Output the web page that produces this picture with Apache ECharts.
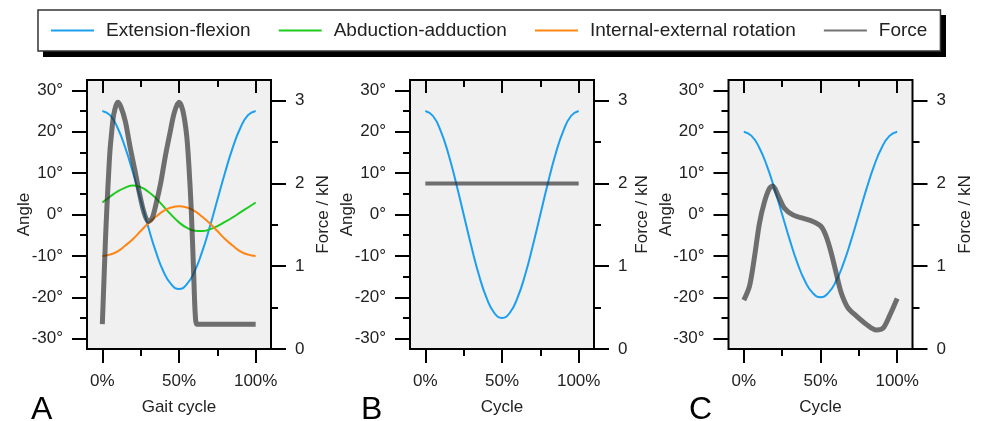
<!DOCTYPE html>
<html>
<head>
<meta charset="utf-8">
<script src="https://cdn.jsdelivr.net/npm/echarts@6/dist/echarts.min.js"></script>
<style>
html, body { margin: 0; padding: 0; background: #fff; }
#main { width: 981px; height: 421px; }
</style>
</head>
<body>
<div id="main"></div>
<script>
const seriesNames = ['Extension-flexion', 'Abduction-adduction', 'Internal-external rotation', 'Force'];
const panelLetters = ['A', 'B', 'C'];
const xNames = ['Gait cycle', 'Cycle', 'Cycle'];

// angles sampled every 5% of the cycle
const cyclePct = [0, 5, 10, 15, 20, 25, 30, 35, 40, 45, 50, 55, 60, 65, 70, 75, 80, 85, 90, 95, 100];
const flexA = [25, 24.0, 20.9, 16.1, 10.1, 3.5, -3.1, -9.1, -13.9, -16.9, -18, -16.9, -13.9, -9.1, -3.1, 3.5, 10.1, 16.1, 20.9, 24.0, 25];
const abdA = [2.9, 4.3, 5.6, 6.5, 7.0, 6.6, 5.5, 3.9, 1.9, -0.1, -1.9, -3.2, -3.9, -4.0, -3.6, -2.8, -1.8, -0.7, 0.5, 1.7, 2.9];
const rotA = [-10, -9.7, -8.9, -7.5, -5.9, -4.0, -2.1, -0.5, 0.9, 1.7, 2.0, 1.7, 0.9, -0.5, -2.1, -4.0, -5.9, -7.5, -8.9, -9.7, -10];
const flexB = [25, 23.8, 20.2, 14.7, 7.7, 0, -7.7, -14.7, -20.2, -23.8, -25, -23.8, -20.2, -14.7, -7.7, 0, 7.7, 14.7, 20.2, 23.8, 25];
const flexC = [20, 19.0, 16.2, 11.8, 6.2, 0, -6.2, -11.8, -16.2, -19.0, -20, -19.0, -16.2, -11.8, -6.2, 0, 6.2, 11.8, 16.2, 19.0, 20];

// force in kN, uneven sampling
const forceAPct = [0, 1, 2, 3, 4, 5, 6, 7, 8, 10, 12, 15, 18, 21, 24, 27, 30, 32.5, 35, 38, 41, 44, 47, 50, 52.5, 55, 56.5, 58, 59.5, 60.5, 61.5, 63, 100];
const forceA = [0.30, 0.80, 1.30, 1.72, 2.08, 2.40, 2.60, 2.78, 2.88, 2.98, 2.93, 2.75, 2.45, 2.18, 1.90, 1.66, 1.54, 1.58, 1.75, 2.00, 2.32, 2.60, 2.86, 2.98, 2.88, 2.58, 2.20, 1.68, 0.95, 0.45, 0.30, 0.30, 0.30];
const forceBPct = [0, 100];
const forceB = [2, 2];
const forceCPct = [0, 3.7, 7, 10.2, 13.5, 16.7, 18.9, 22.2, 26.5, 32, 38.5, 45, 50.4, 53.7, 57, 60.2, 63.5, 67.8, 73.3, 79.8, 86.3, 90.7, 95, 100];
const forceC = [0.59, 0.76, 1.12, 1.52, 1.78, 1.94, 1.97, 1.86, 1.70, 1.62, 1.58, 1.54, 1.48, 1.36, 1.16, 0.92, 0.68, 0.50, 0.40, 0.30, 0.23, 0.25, 0.40, 0.61];

const xTicks = [0, 50, 100];
const xMinorTicks = [25, 75];
const angleTicks = [-30, -20, -10, 0, 10, 20, 30];
const angleMinorTicks = [-25, -15, -5, 5, 15, 25];
const forceTicks = [0, 1, 2, 3];
const forceMinorTicks = [0.5, 1.5, 2.5];

const font = 'Liberation Sans';
const colors = ['#1c9ff0', '#1fcb1f', '#ff8515', 'rgba(40, 40, 40, 0.65)'];
const gridLefts = [87, 410, 728.5];

function pairs(xs, ys) {
    return xs.map((x, i) => [x, ys[i]]);
}

const textStyle = { fontSize: 17, color: '#222', fontFamily: font };
const tickLine = { color: '#000', width: 2 };

function tickAxis(gridIndex, position, min, max, values, length, inside) {
    return {
        gridIndex: gridIndex,
        type: 'value',
        position: position,
        min: min,
        max: max,
        axisLine: { show: false, onZero: false },
        splitLine: { show: false },
        axisLabel: { show: false },
        axisTick: { customValues: values, length: length, inside: !!inside, lineStyle: tickLine }
    };
}

function addName(axis, name, gap) {
    axis.name = name;
    axis.nameLocation = 'middle';
    axis.nameGap = gap;
    axis.nameMoveOverlap = false;
    axis.nameTextStyle = textStyle;
    return axis;
}

const grids = [];
const xAxes = [];
const yAxes = [];
const titles = [];

gridLefts.forEach((left, g) => {
    grids.push({
        left: left, top: 80, width: 184, height: 271,
        show: true, backgroundColor: '#f0f0f0', borderColor: '#000', borderWidth: 2
    });

    const xMain = tickAxis(g, 'bottom', -10, 110, xTicks, 14);
    xMain.axisLabel = { customValues: xTicks, formatter: '{value}%', margin: 24, ...textStyle };
    xAxes.push(addName(xMain, xNames[g], 50));
    xAxes.push(tickAxis(g, 'bottom', -10, 110, xMinorTicks, 7));
    xAxes.push(tickAxis(g, 'top', -10, 110, xTicks, 13, true));
    xAxes.push(tickAxis(g, 'top', -10, 110, xMinorTicks, 7, true));

    const yAngle = tickAxis(g, 'left', -32.5, 32.5, angleTicks, 15);
    yAngle.axisLabel = { customValues: angleTicks, formatter: '{value}°', margin: 24, ...textStyle };
    addName(yAngle, 'Angle', 54);
    yAngle.nameRotate = 90;
    yAxes.push(yAngle);
    yAxes.push(tickAxis(g, 'left', -32.5, 32.5, angleMinorTicks, 7));

    const yForce = tickAxis(g, 'right', 0, 3.25, forceTicks, 15);
    yForce.axisLabel = { customValues: forceTicks, margin: 24, ...textStyle };
    addName(yForce, 'Force / kN', [44, 40, 44][g]);
    yForce.nameRotate = 90;
    yAxes.push(yForce);
    yAxes.push(tickAxis(g, 'right', 0, 3.25, forceMinorTicks, 7));

    titles.push({
        text: panelLetters[g],
        left: [31, 361, 689][g],
        top: 394,
        padding: 0,
        textStyle: { fontSize: 32, fontWeight: 'normal', color: '#000', fontFamily: font }
    });
});

function line(name, g, onForce, data, width, smooth) {
    const idx = seriesNames.indexOf(name);
    return {
        name: name,
        type: 'line',
        xAxisIndex: g * 4,
        yAxisIndex: onForce ? g * 4 + 2 : g * 4,
        data: data,
        symbol: 'none',
        smooth: smooth,
        lineStyle: { color: colors[idx], width: width },
        itemStyle: { color: colors[idx] }
    };
}

const series = [
    line(seriesNames[0], 0, false, pairs(cyclePct, flexA), 2, true),
    line(seriesNames[1], 0, false, pairs(cyclePct, abdA), 2, true),
    line(seriesNames[2], 0, false, pairs(cyclePct, rotA), 2, true),
    line(seriesNames[3], 0, true, pairs(forceAPct, forceA), 5, 0.3),
    line(seriesNames[0], 1, false, pairs(cyclePct, flexB), 2, true),
    line(seriesNames[3], 1, true, pairs(forceBPct, forceB), 4, false),
    line(seriesNames[0], 2, false, pairs(cyclePct, flexC), 2, true),
    line(seriesNames[3], 2, true, pairs(forceCPct, forceC), 5, 0.3)
];

const option = {
    animation: false,
    backgroundColor: '#fff',
    title: titles,
    // black drop shadow behind the legend box
    graphic: [{
        type: 'rect',
        left: 43,
        top: 15,
        shape: { width: 903, height: 42 },
        style: { fill: '#000' },
        z: 0
    }],
    legend: {
        data: seriesNames,
        left: 38,
        top: 10,
        itemWidth: 43,
        itemHeight: 20,
        itemGap: 27,
        padding: [11, 13, 11, 12],
        backgroundColor: '#fff',
        borderColor: '#333',
        borderWidth: 1.5,
        selectedMode: false,
        itemStyle: { color: 'rgba(0,0,0,0)', borderWidth: 0, opacity: 0 },
        textStyle: { fontSize: 19, color: '#222', fontFamily: font, padding: [0, 0, 0, 7] }
    },
    grid: grids,
    xAxis: xAxes,
    yAxis: yAxes,
    series: series
};

const myChart = echarts.init(document.getElementById('main'));
myChart.setOption(option);
</script>
</body>
</html>
